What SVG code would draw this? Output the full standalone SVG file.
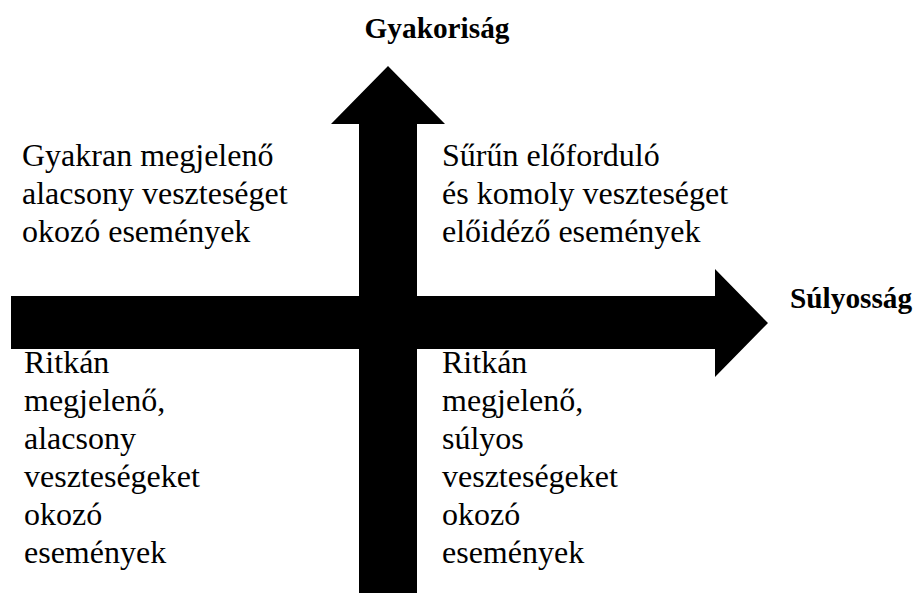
<svg xmlns="http://www.w3.org/2000/svg" width="916" height="593" viewBox="0 0 916 593">
<style>
.axis{fill:#000;stroke:none}
.tx{font-family:'Liberation Serif','Times New Roman',serif;font-size:32px;fill:#000}
.hd{font-family:'Liberation Serif','Times New Roman',serif;font-size:29.3px;font-weight:bold;fill:#000}
</style>
<rect width="916" height="593" fill="#fff"/>
<g id="q-top-left" class="tx">
<text x="22" y="166">Gyakran megjelenő</text>
<text x="22" y="204">alacsony veszteséget</text>
<text x="22" y="242">okozó események</text>
</g>
<g id="q-top-right" class="tx">
<text x="442" y="166">Sűrűn előforduló</text>
<text x="442" y="204">és komoly veszteséget</text>
<text x="442" y="242">előidéző események</text>
</g>
<g id="q-bottom-left" class="tx">
<text x="24" y="373">Ritkán</text>
<text x="24" y="411">megjelenő,</text>
<text x="24" y="449">alacsony</text>
<text x="24" y="487">veszteségeket</text>
<text x="24" y="525">okozó</text>
<text x="24" y="563">események</text>
</g>
<g id="q-bottom-right" class="tx">
<text x="442" y="373">Ritkán</text>
<text x="442" y="411">megjelenő,</text>
<text x="442" y="449">súlyos</text>
<text x="442" y="487">veszteségeket</text>
<text x="442" y="525">okozó</text>
<text x="442" y="563">események</text>
</g>
<g id="connectors">
<polygon id="axis-y" class="axis" points="359,593 359,124 331,124 388,66 445,124 417,124 417,593"/>
<polygon id="axis-x" class="axis" points="11,296 715,296 715,269 768,323 715,377 715,349 11,349"/>
</g>
<g id="label-gyakorisag" class="hd"><text x="437" y="38" text-anchor="middle">Gyakoriság</text></g>
<g id="label-sulyossag" class="hd"><text x="790" y="308">Súlyosság</text></g>
</svg>
